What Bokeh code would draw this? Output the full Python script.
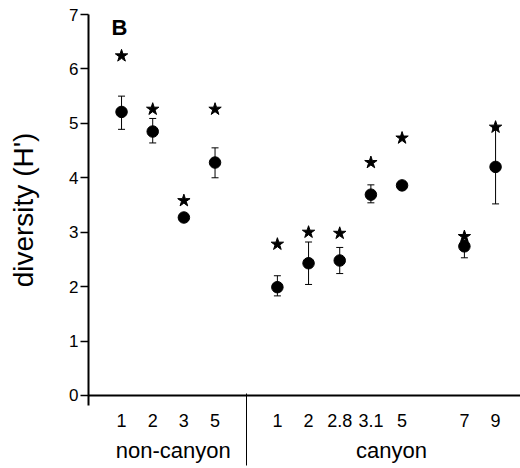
import numpy as np
from bokeh.plotting import figure
from bokeh.models import (Range1d, FixedTicker, Span, Whisker, TeeHead, Label, LinearAxis, ColumnDataSource)
from bokeh.embed import file_html
from bokeh.resources import INLINE

# ---- data ----
groups = ["non-canyon", "canyon"]
nc_sites = ["1", "2", "3", "5"]
nc_mean = [5.21, 4.85, 3.27, 4.28]
nc_lo = [4.89, 4.64, 3.23, 4.00]
nc_hi = [5.50, 5.09, 3.31, 4.55]
nc_star = [6.24, 5.26, 3.58, 5.26]

canyon_sites = ["1", "2", "2.8", "3.1", "5", "7", "9"]
c_mean = [1.99, 2.43, 2.48, 3.69, 3.86, 2.74, 4.20]
c_lo = [1.83, 2.04, 2.24, 3.54, 3.80, 2.53, 3.52]
c_hi = [2.20, 2.82, 2.72, 3.87, 3.92, 2.85, 4.91]
c_star = [2.78, 3.00, 2.98, 4.28, 4.73, 2.92, 4.93]

y_ticks = [0, 1, 2, 3, 4, 5, 6, 7]

# ---- slot layout (one slot per site, a blank slot between groups and before site 7) ----
nc_x = [float(v) for v in np.arange(len(nc_sites))]
idx = np.arange(len(canyon_sites))
c_x = [float(v) for v in (len(nc_sites) + 1 + idx + (idx >= 5))]

xs = nc_x + c_x
means = nc_mean + c_mean
los = nc_lo + c_lo
his = nc_hi + c_hi
stars = nc_star + c_star
labels = nc_sites + canyon_sites

src = ColumnDataSource(dict(x=xs, mean=means, lo=los, hi=his, star=stars))

FONT = "Liberation Sans"
W, H = 520, 468

p = figure(width=W, height=H, output_backend="svg", toolbar_location=None,
           x_range=Range1d(-1.06, 12.80), y_range=Range1d(-0.184, 7.0),
           min_border_left=88, min_border_right=0, min_border_top=14, min_border_bottom=H - 405,
           background_fill_color="white", border_fill_color="white")
p.outline_line_color = None
p.grid.visible = False

# x axis: site labels
xa = p.xaxis[0]
xa.ticker = FixedTicker(ticks=xs, minor_ticks=[])
xa.major_label_overrides = {x: l for x, l in zip(xs, labels)}
xa.axis_line_color = None
xa.major_tick_line_color = None
xa.major_tick_in = 0
xa.major_tick_out = 0
xa.minor_tick_line_color = None
xa.minor_tick_in = 0
xa.minor_tick_out = 0
xa.major_label_text_font = FONT
xa.major_label_text_font_size = "18px"
xa.major_label_text_color = "black"
xa.major_label_standoff = 8

# second x axis: group labels
gcent = [(min(g) + max(g)) / 2 + 0.16 for g in (nc_x, c_x)]
ga = LinearAxis(ticker=FixedTicker(ticks=gcent, minor_ticks=[]),
                major_label_overrides={c: g for c, g in zip(gcent, groups)})
ga.axis_line_color = None
ga.major_tick_line_color = None
ga.major_tick_in = 0
ga.major_tick_out = 0
ga.minor_tick_line_color = None
ga.minor_tick_in = 0
ga.minor_tick_out = 0
ga.major_label_text_font = FONT
ga.major_label_text_font_size = "22px"
ga.major_label_text_color = "black"
ga.major_label_standoff = 8
p.add_layout(ga, "below")

# third x axis: only the group separator, drawn as an inward minor tick reaching the baseline
sep_x = (nc_x[-1] + c_x[0]) / 2
sa = LinearAxis(ticker=FixedTicker(ticks=[], minor_ticks=[sep_x]))
sa.axis_line_color = None
sa.major_tick_line_color = None
sa.major_tick_in = 0
sa.major_tick_out = 0
sa.major_label_text_font_size = "0px"
sa.major_label_standoff = 0
sa.minor_tick_line_color = "black"
sa.minor_tick_line_width = 1
sa.minor_tick_out = 0
sa.minor_tick_in = 72
p.add_layout(sa, "below")

# y axis
ya = p.yaxis[0]
ya.ticker = FixedTicker(ticks=y_ticks)
ya.axis_line_width = 2
ya.axis_line_color = "black"
ya.major_tick_line_width = 1.5
ya.major_tick_in = 0
ya.major_tick_out = 8
ya.minor_tick_line_color = None
ya.major_label_text_font = FONT
ya.major_label_text_font_size = "17px"
ya.major_label_text_color = "black"
ya.major_label_standoff = 2
ya.axis_label = "diversity (H')"
ya.axis_label_text_font = FONT
ya.axis_label_text_font_style = "normal"
ya.axis_label_text_font_size = "28px"
ya.axis_label_text_color = "black"
ya.axis_label_standoff = 27

# baseline (x axis line at zero)
p.add_layout(Span(location=0, dimension="width", line_color="black", line_width=2))

# error bars
p.add_layout(Whisker(source=src, base="x", upper="hi", lower="lo", line_width=1, line_color="black",
                     upper_head=TeeHead(size=7, line_width=1, line_color="black"),
                     lower_head=TeeHead(size=7, line_width=1, line_color="black")))

p.scatter("x", "mean", source=src, marker="circle", size=11.5, color="black")
p.scatter("x", "star", source=src, marker="star", size=13, color="black")

p.add_layout(Label(x=-0.32, y=7.0, text="B", text_baseline="top", text_font=FONT,
                   text_font_size="22px", text_font_style="bold", text_color="black"))

open("out.html", "w").write(file_html(p, INLINE))
